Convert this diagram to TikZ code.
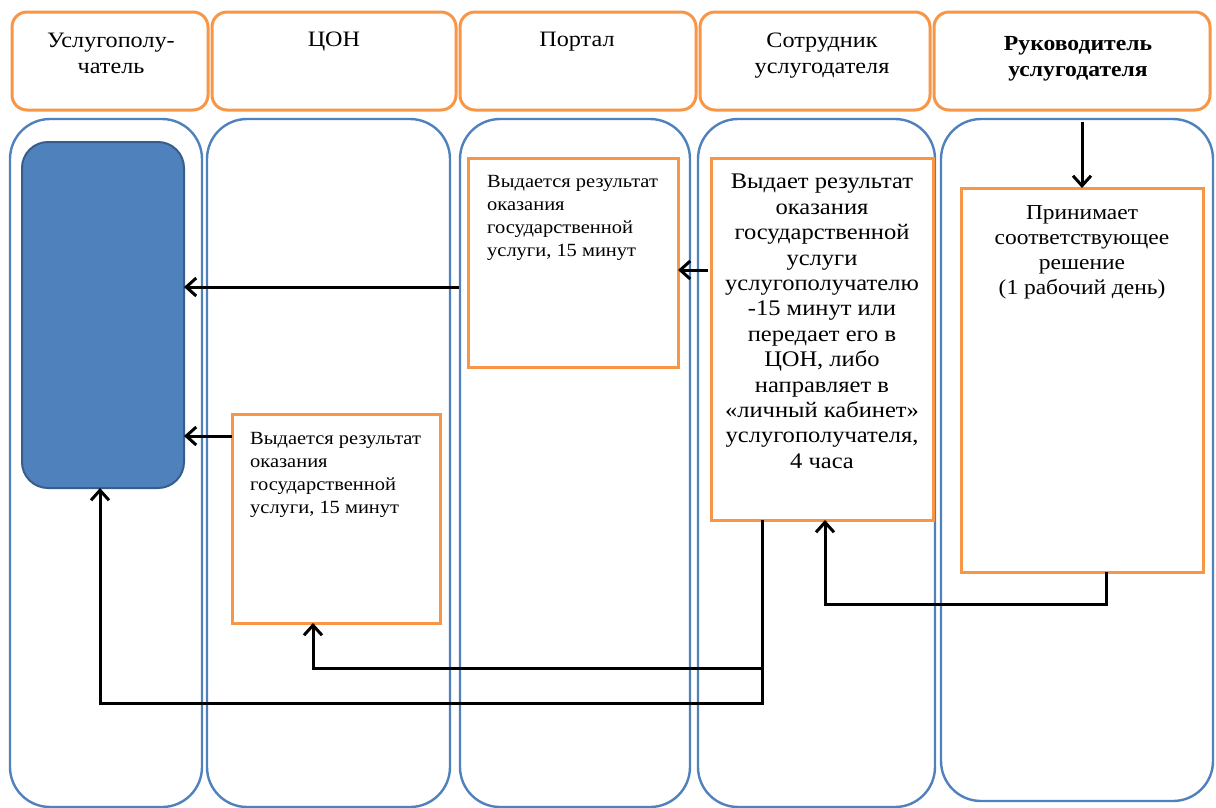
\documentclass[tikz,border=0pt]{standalone}
\usepackage{fontspec}
\setmainfont{Liberation Serif}[FakeStretch=1.1]
\usetikzlibrary{arrows.meta}
\definecolor{orng}{HTML}{F79646}
\definecolor{lanec}{HTML}{4F81BD}
\definecolor{dkfill}{HTML}{4F81BD}
\definecolor{dkdraw}{HTML}{385D8A}
\tikzset{
  hdrbox/.style={draw=orng, line width=3pt, rounded corners=15pt, fill=white, anchor=north west, outer sep=0pt, inner sep=0pt},
  lanebox/.style={draw=lanec, line width=2.4pt, rounded corners=40pt, anchor=north west, outer sep=0pt, inner sep=0pt},
  stepbox/.style={draw=orng, line width=3pt, fill=white, anchor=north west, outer sep=0pt, inner sep=0pt},
  resbox/.style={draw=dkdraw, fill=dkfill, line width=2pt, rounded corners=26pt, anchor=north west, outer sep=0pt, inner sep=0pt},
  flow/.style={line width=3pt, -{Straight Barb[length=10pt,width=18pt,line width=3pt]}},
  hdrtxt/.style={align=center, inner sep=0pt, anchor=north, font=\fontsize{22}{26}\selectfont},
  smalltxt/.style={align=left, inner sep=0pt, anchor=north west, font=\fontsize{18.6}{23.2}\selectfont},
  bigtxt/.style={align=center, inner sep=0pt, anchor=north, font=\fontsize{22.3}{25.4}\selectfont},
  midtxt/.style={align=center, inner sep=0pt, anchor=north, font=\fontsize{21.3}{25.2}\selectfont}
}
\begin{document}
\begin{tikzpicture}[x=1pt,y=-1pt]
\useasboundingbox[fill=white] (0,0) rectangle (1216,807);

% header boxes
\node[hdrbox, minimum width=196pt, minimum height=98pt] (h1) at (12,12) {};
\node[hdrbox, minimum width=244pt, minimum height=98pt] (h2) at (212,12) {};
\node[hdrbox, minimum width=236pt, minimum height=98pt] (h3) at (460,12) {};
\node[hdrbox, minimum width=230pt, minimum height=98pt] (h4) at (700,12) {};
\node[hdrbox, minimum width=276pt, minimum height=98pt] (h5) at (934,12) {};

\node[hdrtxt] (t1) at (111,33) {Услугополу-\\чатель};
\node[hdrtxt] (t2) at (334,32) {ЦОН};
\node[hdrtxt] (t3) at (577,32) {Портал};
\node[hdrtxt] (t4) at (822,33) {Сотрудник\\услугодателя};
\node[hdrtxt, font=\fontsize{21.5}{26}\selectfont\bfseries] (t5) at (1078,36) {Руководитель\\услугодателя};

% lanes
\node[lanebox, minimum width=192pt, minimum height=688pt] (l1) at (10,119) {};
\node[lanebox, minimum width=243pt, minimum height=688pt] (l2) at (207,119) {};
\node[lanebox, minimum width=230pt, minimum height=688pt] (l3) at (460,119) {};
\node[lanebox, minimum width=237pt, minimum height=688pt] (l4) at (698,119) {};
\node[lanebox, minimum width=272pt, minimum height=682pt] (l5) at (941,119) {};

% result box
\node[resbox, minimum width=162pt, minimum height=346pt] (dk) at (22,142) {};

% step boxes
\node[stepbox, minimum width=210pt, minimum height=209pt] (pb) at (468,158) {};
\node[stepbox, minimum width=208pt, minimum height=209pt] (cb) at (232,414) {};
\node[stepbox, minimum width=222pt, minimum height=362pt] (sb) at (711,158) {};
\node[stepbox, minimum width=242pt, minimum height=384pt] (rb) at (961,188) {};

\node[smalltxt] (pt) at (487,175) {Выдается результат\\оказания\\государственной\\услуги, 15 минут};
\node[smalltxt] (ct) at (250,432) {Выдается результат\\оказания\\государственной\\услуги, 15 минут};
\node[bigtxt] (st) at (822,174) {Выдает результат\\оказания\\государственной\\услуги\\услугополучателю\\-15 минут или\\передает его в\\ЦОН, либо\\направляет в\\«личный кабинет»\\услугополучателя,\\4 часа};
\node[midtxt] (rt) at (1082,205) {Принимает\\соответствующее\\решение\\(1 рабочий день)};

% connectors
\coordinate (rin) at (1082,122);
\draw[flow] (rin) -- (rb.north);

\coordinate (pout) at (459,287);
\draw[flow] (pout) -- (pout -| dk.east);

\coordinate (sout) at (708,270);
\draw[flow] (sout) -- (sout -| pb.east);

\coordinate (cout) at (232,436);
\draw[flow] (cout) -- (cout -| dk.east);

\coordinate (s1) at (762,520);
\coordinate (s2) at (762,668);
\coordinate (c1) at (313,668);
\draw[flow] (s1) -- (s2) -- (c1) -- (c1 |- cb.south);

\coordinate (s3) at (762,703);
\coordinate (d1) at (100,703);
\draw[flow] (s1) -- (s3) -- (d1) -- (d1 |- dk.south);

\coordinate (r1) at (1106,572);
\coordinate (r2) at (1106,604);
\coordinate (r3) at (825,604);
\draw[flow] (r1) -- (r2) -- (r3) -- (r3 |- sb.south);
\end{tikzpicture}
\end{document}
